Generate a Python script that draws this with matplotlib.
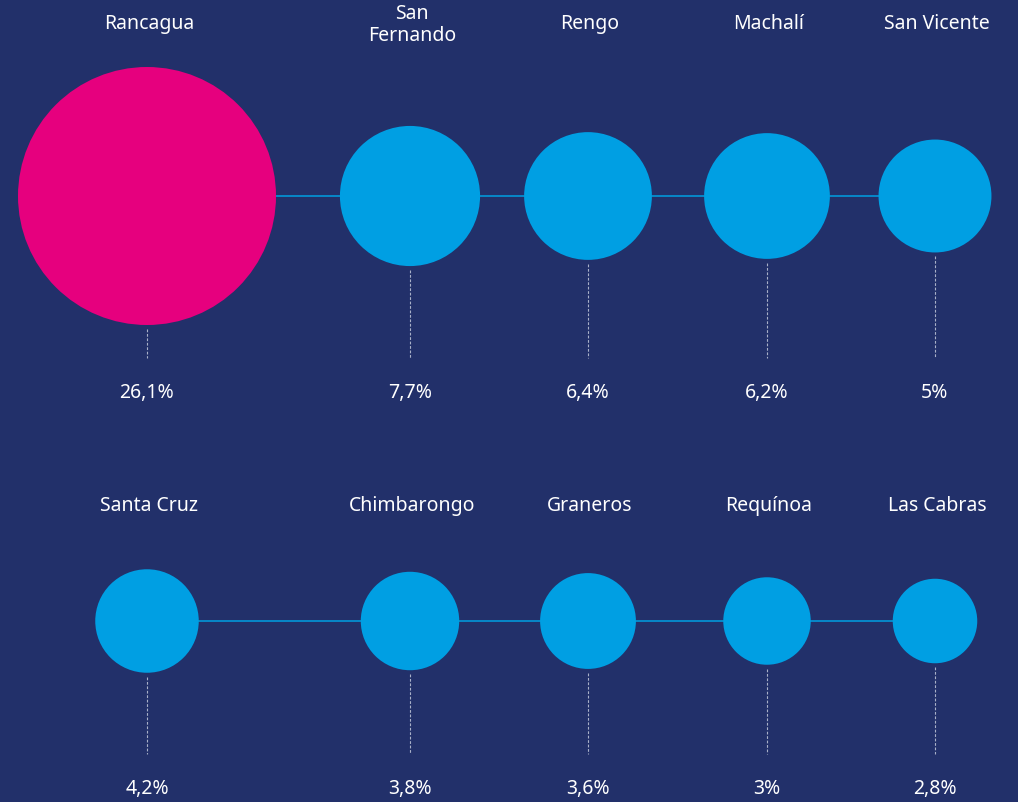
import matplotlib.pyplot as plt
from matplotlib.patches import Circle
import numpy as np

# Data: share of population per commune (%)
names_top = ['Rancagua', 'San\nFernando', 'Rengo', 'Machalí', 'San Vicente']
values_top = [26.1, 7.7, 6.4, 6.2, 5.0]
labels_top = ['26,1%', '7,7%', '6,4%', '6,2%', '5%']

names_bottom = ['Santa Cruz', 'Chimbarongo', 'Graneros', 'Requínoa', 'Las Cabras']
values_bottom = [4.2, 3.8, 3.6, 3.0, 2.8]
labels_bottom = ['4,2%', '3,8%', '3,6%', '3%', '2,8%']

bg = '#22306A'
pink = '#E6007E'
blue = '#009FE3'

fig = plt.figure(figsize=(10.18, 8.02), dpi=100, facecolor=bg)
ax = fig.add_axes([0, 0, 1, 1])
ax.set_facecolor(bg)
ax.set_xlim(0, 1018)
ax.set_ylim(802, 0)
ax.set_aspect('equal')
ax.axis('off')

xs = [147, 410, 588, 767, 935]
scale = 129 / np.sqrt(26.1)  # circle area proportional to value
font = ['Noto Sans', 'DejaVu Sans']


def draw_row(names, values, labels, cy, name_y, dash_end, pct_y, first_pink):
    radii = [scale * np.sqrt(v) for v in values]
    ax.plot([xs[0], xs[-1]], [cy, cy], color=blue, lw=1.1, zorder=1)
    for i, (x, r) in enumerate(zip(xs, radii)):
        col = pink if (first_pink and i == 0) else blue
        ax.add_patch(Circle((x, cy), r, color=col, lw=0, zorder=2))
        ax.plot([x, x], [cy + r + 4, dash_end], color='#A9B0C8', lw=0.8,
                ls=(0, (2.5, 1.5)), zorder=1)
        ax.text(x, pct_y, labels[i], color='white', fontsize=14,
                ha='center', va='baseline', family=font)
        # two-line names: shift so the block stays centred on the row
        ny = name_y + 12 * names[i].count('\n')
        ax.text(x + 2, ny, names[i], color='white', fontsize=14,
                ha='center', va='baseline', family=font, linespacing=1.15)


draw_row(names_top, values_top, labels_top, 196, 29, 358, 398, True)
draw_row(names_bottom, values_bottom, labels_bottom, 621, 511, 754, 794, False)

plt.savefig('out.png', dpi=100, facecolor=bg)
